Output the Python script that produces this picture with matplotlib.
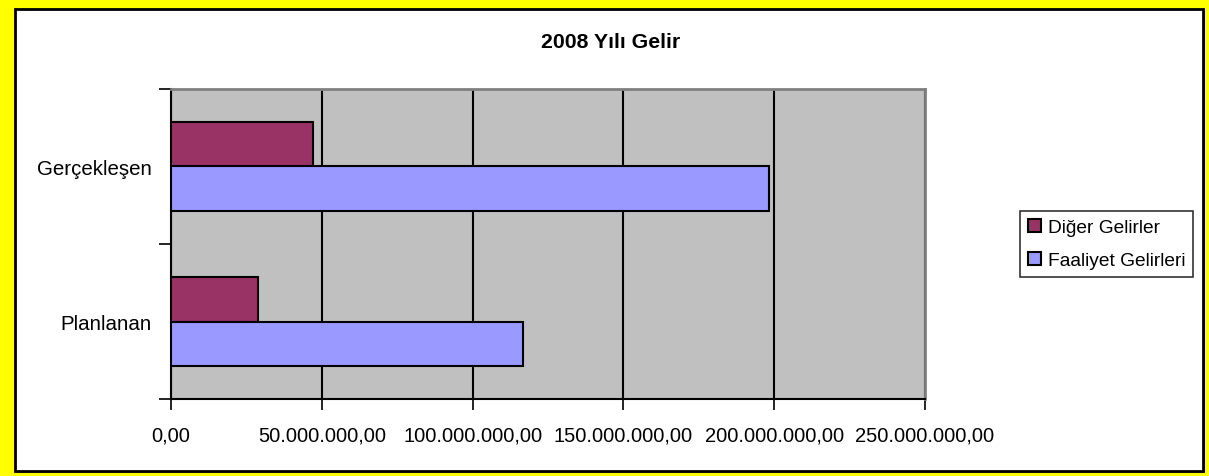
import matplotlib.pyplot as plt
from matplotlib.patches import Rectangle
from matplotlib.ticker import FuncFormatter

#%% data
categories = ['Planlanan', 'Gerçekleşen']
diger = [28.7e6, 47.0e6]
faaliyet = [116.8e6, 198.2e6]
series_names = ['Diğer Gelirler', 'Faaliyet Gelirleri']
xticks = [0, 50e6, 100e6, 150e6, 200e6, 250e6]

plt.rcParams['font.family'] = ['Liberation Sans', 'DejaVu Sans']


def tr_format(v, pos):
    s = '{:,.2f}'.format(v)
    return s.replace(',', 'X').replace('.', ',').replace('X', '.')


#%% figure with yellow frame
fig = plt.figure(figsize=(12.09, 4.77), dpi=100, facecolor='yellow')
W, H = 1209, 477
fig.patches.append(Rectangle((17 / W, 1 - 474 / H), 1188 / W, 462 / H, transform=fig.transFigure,
                             facecolor='#808080', edgecolor='none', zorder=-2))
fig.patches.append(Rectangle((15 / W, 1 - 472 / H), 1188 / W, 462 / H, transform=fig.transFigure,
                             facecolor='white', edgecolor='black', linewidth=2, zorder=-1))

ax = fig.add_axes([171 / W, 1 - 400 / H, (925 - 171) / W, (400 - 90) / H])
ax.set_zorder(1)
ax.set_facecolor('#C0C0C0')

h = 0.284
y = list(range(len(categories)))
ax.barh([i + h / 2 for i in y], diger, height=h, color='#993366', edgecolor='black',
        linewidth=1.5, label=series_names[0], zorder=3)
ax.barh([i - h / 2 for i in y], faaliyet, height=h, color='#9999FF', edgecolor='black',
        linewidth=1.5, label=series_names[1], zorder=3)

ax.set_xlim(0, 250e6)
ax.set_ylim(-0.5, 1.5)
ax.set_xticks(xticks)
ax.xaxis.set_major_formatter(FuncFormatter(tr_format))
ax.grid(axis='x', color='black', linewidth=1.5, zorder=1)
ax.tick_params(axis='x', length=8, width=1.2, labelsize=14.5, pad=11, color='black')

ax.set_yticks([-0.5, 0.5, 1.5])
ax.set_yticklabels([])
ax.set_yticks(y, minor=True)
ax.set_yticklabels(categories, minor=True)
ax.tick_params(axis='y', which='major', length=9, width=1.2)
ax.tick_params(axis='y', which='minor', length=0, labelsize=14.8, pad=14)

for s in ['left', 'bottom']:
    ax.spines[s].set_color('black')
    ax.spines[s].set_linewidth(1.5)
for s in ['top', 'right']:
    ax.spines[s].set_color('#808080')
    ax.spines[s].set_linewidth(2)

fig.text(0.505, 1 - 42 / H, '2008 Yılı Gelir', ha='center', va='center', fontsize=15.3, fontweight='bold')

leg = ax.legend(loc='center left', bbox_to_anchor=(1020 / W, 1 - 245 / H), bbox_transform=fig.transFigure,
                fontsize=13.8, frameon=True, fancybox=False, edgecolor='black', handlelength=0.7,
                handleheight=0.7, handletextpad=0.35, borderpad=0.4, labelspacing=0.8, borderaxespad=0)
leg.get_frame().set_linewidth(1.2)
for p in leg.get_patches():
    p.set_linewidth(1.5)

fig.savefig('out.png', dpi=100, facecolor='yellow')
